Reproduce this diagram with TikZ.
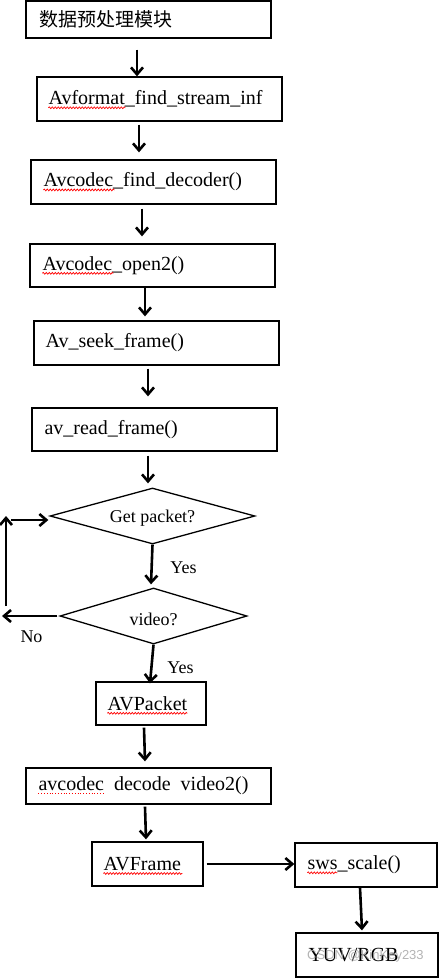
\documentclass[tikz,border=0pt]{standalone}
\usepackage{fontspec}
\setmainfont{Liberation Serif}
\newfontfamily\cjkfont{Noto Sans CJK SC}
\newfontfamily\wmfont{Liberation Sans}
\usetikzlibrary{arrows.meta,shapes.geometric,decorations.pathmorphing}
\begin{document}
\begin{tikzpicture}[x=1pt,y=-1pt,
  box/.style={draw, line width=1.3pt, inner sep=0pt},
  txt/.style={anchor=west, inner sep=0pt, font=\fontsize{20}{24}\selectfont},
  dia/.style={draw, diamond, line width=1.3pt, inner sep=0pt, font=\fontsize{18}{22}\selectfont},
  lab/.style={inner sep=0pt, font=\fontsize{18}{22}\selectfont},
  arr/.style={line width=2.6pt, -{Straight Barb[length=7pt,width=12pt]}},
  wavy/.style={red, line width=0.7pt, decorate, decoration={snake, amplitude=0.9pt, segment length=3pt}},
  dots/.style={red, line width=0.8pt, dotted},
]
\useasboundingbox (0,0) rectangle (439,978);

% boxes
\node[box, minimum width=245pt, minimum height=37pt] (b1) at (148.5,19.5) {};
\node[box, minimum width=245pt, minimum height=44pt] (b2) at (159.5,99) {};
\node[box, minimum width=245pt, minimum height=44pt] (b3) at (153.5,182) {};
\node[box, minimum width=245pt, minimum height=43pt] (b4) at (152.5,265.5) {};
\node[box, minimum width=245pt, minimum height=44pt] (b5) at (156.5,343) {};
\node[box, minimum width=245pt, minimum height=43pt] (b6) at (154.5,429.5) {};
\node[dia, minimum width=205pt, minimum height=56pt] (d1) at (152.5,516) {};
\node[dia, minimum width=187pt, minimum height=56pt] (d2) at (153.5,616) {};
\node[box, minimum width=110pt, minimum height=43pt] (pk) at (151,703.5) {};
\node[box, minimum width=245pt, minimum height=36pt] (dec) at (148.5,786) {};
\node[box, minimum width=111pt, minimum height=44pt] (fr) at (147.5,864) {};
\node[box, minimum width=142pt, minimum height=44pt] (sws) at (366,865) {};
\node[box, minimum width=142pt, minimum height=44pt] (yuv) at (367,955) {};

% texts
\node[txt, font=\cjkfont\fontsize{19}{22}\selectfont] (t1) at ([shift={(14,0)}]b1.west) {数据预处理模块};
\node[txt] (t2) at ([shift={(12,0)}]b2.west) {Avformat\_find\_stream\_inf};
\node[txt] (t3) at ([shift={(13,0)}]b3.west) {Avcodec\_find\_decoder()};
\node[txt] (t4) at ([shift={(13,0)}]b4.west) {Avcodec\_open2()};
\node[txt] (t5) at ([shift={(12,0)}]b5.west) {Av\_seek\_frame()};
\node[txt] (t6) at ([shift={(13,0)}]b6.west) {av\_read\_frame()};
\node[lab] (td1) at ([shift={(0,2)}]d1.center) {Get packet?};
\node[lab] (td2) at ([shift={(0,3)}]d2.center) {video?};
\node[txt] (tpk) at ([shift={(12,0)}]pk.west) {AVPacket};
\node[txt] (tdec) at ([shift={(13,0)}]dec.west) {avcodec\hspace{0.5em}decode\hspace{0.5em}video2()};
\node[txt] (tfr) at ([shift={(12,0)}]fr.west) {AVFrame};
\node[txt] (tsws) at ([shift={(13,0)}]sws.west) {sws\_scale()};
\node[txt] (tyuv) at ([shift={(13,0)}]yuv.west) {YUV/RGB};

% labels
\node[lab] (yes1) at (183.5,568) {Yes};
\node[lab] (yes2) at (180.5,668) {Yes};
\node[lab] (no) at (31.5,637) {No};

% spell-check underlines
\draw[wavy] ([shift={(0,3)}]t2.base west) -- ++(77,0);
\draw[wavy] ([shift={(0,3)}]t3.base west) -- ++(71,0);
\draw[wavy] ([shift={(0,3)}]t4.base west) -- ++(71,0);
\draw[wavy] ([shift={(0,3)}]tpk.base west) -- ++(80,0);
\draw[dots] ([shift={(0,3)}]tdec.base west) -- ++(65,0);
\draw[wavy] ([shift={(0,3)}]tfr.base west) -- ++(79,0);
\draw[wavy] ([shift={(0,3)}]tsws.base west) -- ++(30,0);

% arrows
\draw[arr] ([shift={(-11.5,11)}]b1.south) -- ([shift={(-22.5,0)}]b2.north);
\draw[arr] ([shift={(-20.5,3)}]b2.south) -- ([shift={(-14.5,-7)}]b3.north);
\draw[arr] ([shift={(-11.5,4)}]b3.south) -- ([shift={(-10.5,-7)}]b4.north);
\draw[arr] ([shift={(-7.5,0)}]b4.south) -- ([shift={(-11.5,-4)}]b5.north);
\draw[arr] ([shift={(-8.5,3)}]b5.south) -- ([shift={(-6.5,-11)}]b6.north);
\draw[arr] ([shift={(-6.5,4)}]b6.south) -- ([shift={(-4.5,-4)}]d1.north);
\draw[arr] (d1.south) -- ([shift={(-2.5,-3)}]d2.north);
\draw[arr] (d2.south) -- ([shift={(-1,2)}]pk.north);
\draw[arr] ([shift={(-7,2)}]pk.south) -- ([shift={(-3.5,-6)}]dec.north);
\draw[arr] ([shift={(-3.5,2)}]dec.south) -- ([shift={(-1.5,-2)}]fr.north);
\draw[arr] ([shift={(3,0)}]fr.east) -- ([shift={(0,-1)}]sws.west);
\draw[arr] ([shift={(-6,0)}]sws.south) -- ([shift={(-5,-2)}]yuv.north);

% loop back (No)
\coordinate (noL) at (2,616);
\coordinate (vb) at (6,606);
\coordinate (vt) at (6,516);
\coordinate (h0) at (11,520);
\draw[arr] ([shift={(-2,0)}]d2.west) -- (noL);
\draw[arr] (vb) -- (vt);
\draw[arr] (h0) -- ([shift={(-1,4)}]d1.west);

% watermark
\node[font=\wmfont\fontsize{13}{15}\selectfont, text=gray!70, opacity=0.85, anchor=west, inner sep=0pt] (wm) at (307,956) {CSDN @KinKey233};
\end{tikzpicture}
\end{document}
